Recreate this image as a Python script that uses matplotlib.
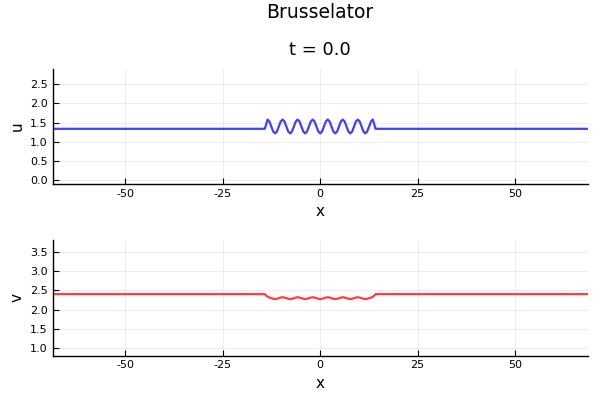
import numpy as np
import matplotlib
matplotlib.use("Agg")
import matplotlib.pyplot as plt

# t = 0.0 state
x_wave = [-13.50, -13.02, -12.54, -12.05, -11.57, -11.09, -10.61, -10.13,
          -9.64, -9.16, -8.68, -8.20, -7.71, -7.23, -6.75, -6.27,
          -5.79, -5.30, -4.82, -4.34, -3.86, -3.38, -2.89, -2.41,
          -1.93, -1.45, -0.96, -0.48, 0.00, 0.48, 0.96, 1.45,
          1.93, 2.41, 2.89, 3.38, 3.86, 4.34, 4.82, 5.30,
          5.79, 6.27, 6.75, 7.23, 7.71, 8.20, 8.68, 9.16,
          9.64, 10.13, 10.61, 11.09, 11.57, 12.05, 12.54, 13.02,
          13.50]
u_wave = [1.58, 1.53, 1.40, 1.27, 1.22, 1.27, 1.40, 1.53,
          1.58, 1.53, 1.40, 1.27, 1.22, 1.27, 1.40, 1.53,
          1.58, 1.53, 1.40, 1.27, 1.22, 1.27, 1.40, 1.53,
          1.58, 1.53, 1.40, 1.27, 1.22, 1.27, 1.40, 1.53,
          1.58, 1.53, 1.40, 1.27, 1.22, 1.27, 1.40, 1.53,
          1.58, 1.53, 1.40, 1.27, 1.22, 1.27, 1.40, 1.53,
          1.58, 1.53, 1.40, 1.27, 1.22, 1.27, 1.40, 1.53,
          1.58]
v_wave = [2.33, 2.31, 2.295, 2.28, 2.27, 2.28, 2.295, 2.31,
          2.32, 2.31, 2.295, 2.28, 2.27, 2.28, 2.295, 2.31,
          2.32, 2.31, 2.295, 2.28, 2.27, 2.28, 2.295, 2.31,
          2.32, 2.31, 2.295, 2.28, 2.27, 2.28, 2.295, 2.31,
          2.32, 2.31, 2.295, 2.28, 2.27, 2.28, 2.295, 2.31,
          2.32, 2.31, 2.295, 2.28, 2.27, 2.28, 2.295, 2.31,
          2.32, 2.31, 2.295, 2.28, 2.27, 2.28, 2.295, 2.31,
          2.33]
x_left = [-68.6, -14.2]
x_right = [14.2, 68.6]
u_base = 1.34
v_base = 2.40

x = x_left + x_wave + x_right
u = [u_base, u_base] + u_wave + [u_base, u_base]
v = [v_base, v_base] + v_wave + [v_base, v_base]

xticks = [-50, -25, 0, 25, 50]
uticks = [0.0, 0.5, 1.0, 1.5, 2.0, 2.5]
vticks = [1.0, 1.5, 2.0, 2.5, 3.0, 3.5]

plt.rcParams['font.family'] = ['DejaVu Sans']

fig = plt.figure(figsize=(6, 4), dpi=100)
ax1 = fig.add_axes([0.0878, 0.54, 0.8917, 0.287])
ax2 = fig.add_axes([0.0878, 0.111, 0.8917, 0.289])


def style(ax, yt):
    for s in ['top', 'right']:
        ax.spines[s].set_visible(False)
    for s in ['left', 'bottom']:
        ax.spines[s].set_linewidth(1.0)
    ax.set_xticks(xticks)
    ax.set_xticklabels([str(t) for t in xticks])
    ax.set_yticks(yt)
    ax.set_yticklabels(['%.1f' % t for t in yt])
    ax.tick_params(direction='in', length=4, width=0.8, labelsize=8, pad=3.5)
    ax.grid(True, color='black', alpha=0.1, linewidth=0.5)
    ax.set_xlim(-68.6, 68.6)
    ax.set_xlabel('x', fontsize=11, labelpad=4)


ax1.plot(x, u, color='#4040ff', linewidth=1.6)
style(ax1, uticks)
ax1.set_ylim(-0.095, 2.89)
ax1.set_ylabel('u', fontsize=11, labelpad=4)
ax1.set_title('t = 0.0', fontsize=13, pad=10)

ax2.plot(x, v, color='#ff4040', linewidth=1.6)
style(ax2, vticks)
ax2.set_ylim(0.80, 3.81)
ax2.set_ylabel('v', fontsize=11, labelpad=4)

fig.text(0.533, 0.97, 'Brusselator', ha='center', va='center', fontsize=13.5)

fig.savefig('out.png', dpi=100)
